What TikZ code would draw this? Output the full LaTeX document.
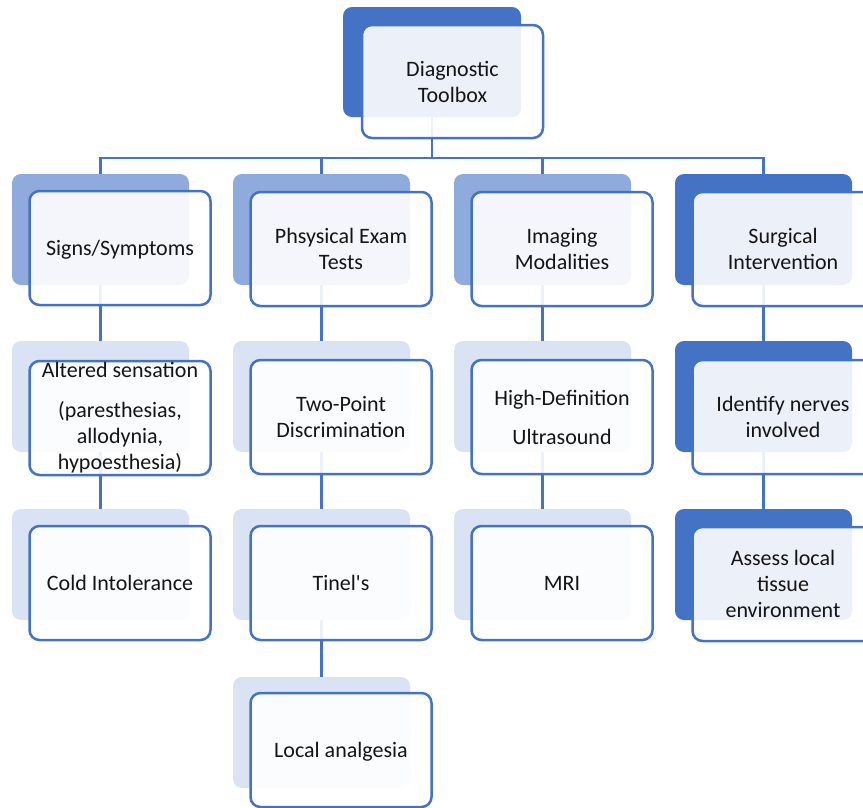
\documentclass[tikz,border=0pt]{standalone}
\usepackage{fontspec}
\setmainfont{Carlito}
\usetikzlibrary{backgrounds}
\definecolor{acc}{HTML}{4472C4}
\definecolor{midb}{HTML}{8FAADC}
\definecolor{lightb}{HTML}{DAE3F3}
\definecolor{txt}{HTML}{141414}
\tikzset{
  back/.style={rounded corners=9pt, inner sep=0pt, outer sep=0pt,
    minimum width=177pt, minimum height=111pt},
  front/.style={draw=acc, line width=2.5pt, fill=white, fill opacity=0.9,
    text opacity=1, rounded corners=10pt, inner sep=0pt, outer sep=0pt,
    minimum width=181pt, minimum height=114pt, align=center,
    font=\fontsize{22}{26}\selectfont, text=txt},
  conn/.style={draw=acc, line width=2.5pt},
}
\begin{document}
\begin{tikzpicture}[x=1pt,y=-1pt]
\useasboundingbox (0,0) rectangle (863,807);
\clip (0,0) rectangle (863,807);
% top
\node[back, fill=acc, minimum width=178pt, minimum height=110pt] (tb) at (432,62) {};
\node[front, minimum height=113pt] (tf) at (452.5,81.5) {Diagnostic\\Toolbox};
% column 1
\node[back, fill=midb] (b11) at (100.5,229.5) {};
\node[front, text depth=0pt] (f11) at (120,248) {Signs/Symptoms};
\node[back, fill=lightb] (b12) at (100.5,396.5) {};
\node[front] (f12) at (120,418) {Altered sensation\\[14pt](paresthesias,\\allodynia,\\hypoesthesia)};
\node[back, fill=lightb] (b13) at (100.5,564.5) {};
\node[front, text depth=0pt] (f13) at (120,583) {Cold Intolerance};
% column 2
\node[back, fill=midb] (b21) at (321.5,229.5) {};
\node[front] (f21) at (341,249) {Phsysical Exam\\Tests};
\node[back, fill=lightb] (b22) at (321.5,396.5) {};
\node[front] (f22) at (341,417) {Two-Point\\Discrimination};
\node[back, fill=lightb] (b23) at (321.5,564.5) {};
\node[front, text depth=0pt] (f23) at (341,583) {Tinel\textquotesingle s};
\node[back, fill=lightb] (b24) at (321.5,732.5) {};
\node[front, text depth=0pt] (f24) at (341,750) {Local analgesia};
% column 3
\node[back, fill=midb] (b31) at (542.5,229.5) {};
\node[front] (f31) at (562,249) {Imaging\\Modalities};
\node[back, fill=lightb] (b32) at (542.5,396.5) {};
\node[front] (f32) at (562,417) {High-Definition\\[13pt]Ultrasound};
\node[back, fill=lightb] (b33) at (542.5,564.5) {};
\node[front, text depth=0pt] (f33) at (562,583) {MRI};
% column 4
\node[back, fill=acc] (b41) at (763.5,229.5) {};
\node[front] (f41) at (783,249) {Surgical\\Intervention};
\node[back, fill=acc] (b42) at (763.5,396.5) {};
\node[front] (f42) at (783,417) {Identify nerves\\involved};
\node[back, fill=acc] (b43) at (763.5,564.5) {};
\node[front] (f43) at (783,584) {Assess local\\tissue\\environment};
% connectors
\begin{scope}[on background layer]
\coordinate (bus) at (432,158);
\draw[conn] (tb.south) -- (bus);
\draw[conn] (b11.north) |- (bus) -| (b41.north);
\draw[conn] (b21.north) |- (bus);
\draw[conn] (b31.north) |- (bus);
\draw[conn] (b11.south) -- (b12.north);
\draw[conn] (b12.south) -- (b13.north);
\draw[conn] (b21.south) -- (b22.north);
\draw[conn] (b22.south) -- (b23.north);
\draw[conn] (b23.south) -- (b24.north);
\draw[conn] (b31.south) -- (b32.north);
\draw[conn] (b32.south) -- (b33.north);
\draw[conn] (b41.south) -- (b42.north);
\draw[conn] (b42.south) -- (b43.north);
\end{scope}
\end{tikzpicture}
\end{document}
